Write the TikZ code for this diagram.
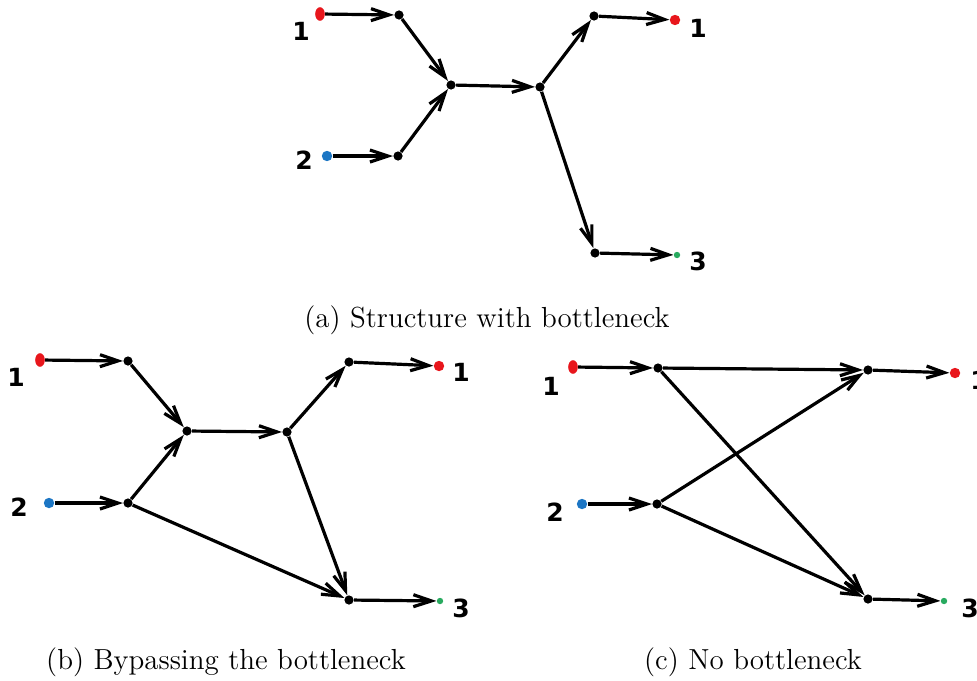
\documentclass[tikz,border=0pt]{standalone}
\usepackage{fontspec}
\newfontfamily\lblfont{DejaVu Sans}
\usetikzlibrary{arrows.meta,shapes.geometric}
\definecolor{srcred}{RGB}{232,22,28}
\definecolor{srcblue}{RGB}{28,118,196}
\definecolor{sinkgreen}{RGB}{40,170,95}
\begin{document}
\begin{tikzpicture}[x=0.5pt,y=-0.5pt,
  vtx/.style={circle,fill=black,inner sep=0pt,minimum size=4.6pt},
  redsrc/.style={ellipse,fill=srcred,inner sep=0pt,minimum width=4.8pt,minimum height=6.8pt},
  redsink/.style={circle,fill=srcred,inner sep=0pt,minimum size=5.2pt},
  bluesrc/.style={circle,fill=srcblue,inner sep=0pt,minimum size=5.2pt},
  greensink/.style={circle,fill=sinkgreen,inner sep=0pt,minimum size=3.2pt},
  flow/.style={line width=1.6pt,-{Straight Barb[length=9pt,width=6pt]}},
  num/.style={font=\lblfont\bfseries\fontsize{12.5}{14}\selectfont,inner sep=0pt},
  subcap/.style={font=\fontsize{14.5}{17}\selectfont,inner sep=0pt}
]
\useasboundingbox (0,0) rectangle (977,680);

% ---------- (a) structure with a bottleneck ----------
\node[redsrc]    (aS1) at (320,14) {};
\node[bluesrc]   (aS2) at (327,156) {};
\node[vtx]       (a1)  at (399,15) {};
\node[vtx]       (a3)  at (398,156) {};
\node[vtx]       (a2)  at (451,85) {};
\node[vtx]       (a4)  at (540,87) {};
\node[vtx]       (a5)  at (594,16) {};
\node[vtx]       (a6)  at (595,253) {};
\node[redsink]   (aT1) at (675,20) {};
\node[greensink] (aT3) at (677,255) {};
\node[num] (aL1) at (301,31) {1};
\node[num] (aL2) at (304,160) {2};
\node[num] (aR1) at (698,28) {1};
\node[num] (aR3) at (698,261) {3};

\draw[flow] (aS1) -- (a1);
\draw[flow] (aS2) -- (a3);
\draw[flow] (a1) -- (a2);
\draw[flow] (a3) -- (a2);
\draw[flow] (a2) -- (a4);
\draw[flow] (a4) -- (a5);
\draw[flow] (a4) -- (a6);
\draw[flow] (a5) -- (aT1);
\draw[flow] (a6) -- (aT3);

\node[subcap] (capA) at (487,320) {(a) Structure with bottleneck};

% ---------- (b) a path around the bottleneck ----------
\node[redsrc]    (bS1) at (40,360) {};
\node[bluesrc]   (bS2) at (49,503) {};
\node[vtx]       (b1)  at (128,361) {};
\node[vtx]       (b3)  at (128,503) {};
\node[vtx]       (b2)  at (187,431) {};
\node[vtx]       (b4)  at (287,432) {};
\node[vtx]       (b5)  at (349,362) {};
\node[vtx]       (b6)  at (349,600) {};
\node[redsink]   (bT1) at (439,366) {};
\node[greensink] (bT3) at (440,601) {};
\node[num] (bL1) at (16,377) {1};
\node[num] (bL2) at (19,507) {2};
\node[num] (bR1) at (461,372) {1};
\node[num] (bR3) at (461,608) {3};

\draw[flow] (bS1) -- (b1);
\draw[flow] (bS2) -- (b3);
\draw[flow] (b1) -- (b2);
\draw[flow] (b3) -- (b2);
\draw[flow] (b2) -- (b4);
\draw[flow] (b4) -- (b5);
\draw[flow] (b4) -- (b6);
\draw[flow] (b3) -- (b6);
\draw[flow] (b5) -- (bT1);
\draw[flow] (b6) -- (bT3);

\node[subcap] (capB) at (226,662) {(b) Bypassing the bottleneck};

% ---------- (c) no bottleneck ----------
\node[redsrc]    (cS1) at (573,367) {};
\node[bluesrc]   (cS2) at (582,504) {};
\node[vtx]       (c1)  at (658,368) {};
\node[vtx]       (c2)  at (657,504) {};
\node[vtx]       (c3)  at (868,370) {};
\node[vtx]       (c4)  at (868,599) {};
\node[redsink]   (cT1) at (955,373) {};
\node[greensink] (cT3) at (944,601) {};
\node[num] (cL1) at (551,386) {1};
\node[num] (cL2) at (555,512) {2};
\node[num] (cR1) at (979,380) {1};
\node[num] (cR3) at (970,608) {3};

\draw[flow] (cS1) -- (c1);
\draw[flow] (cS2) -- (c2);
\draw[flow] (c1) -- (c3);
\draw[flow] (c1) -- (c4);
\draw[flow] (c2) -- (c3);
\draw[flow] (c2) -- (c4);
\draw[flow] (c3) -- (cT1);
\draw[flow] (c4) -- (cT3);

\node[subcap] (capC) at (753,662) {(c) No bottleneck};
\end{tikzpicture}
\end{document}
